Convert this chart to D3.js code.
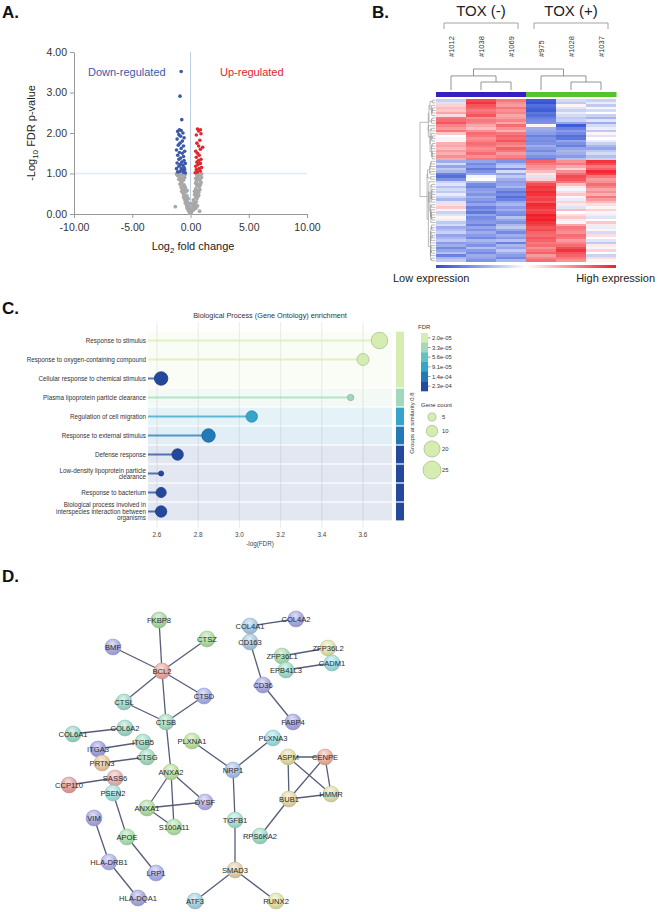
<!DOCTYPE html>
<html>
<head>
<meta charset="utf-8">
<script src="https://cdn.jsdelivr.net/npm/d3@7"></script>
<style>
  body { margin: 0; background: #fff; }
  svg { display: block; font-family: "Liberation Sans", Arial, sans-serif; }
</style>
</head>
<body>
<svg id="fig" width="658" height="912"></svg>
<script>
// ---------------- data ----------------

// A. volcano plot
const volcanoXTicks = [-10, -5, 0, 5, 10];
const volcanoYTicks = [0, 1, 2, 3, 4];
const grayPts = [
  [-0.05,0.02],[0.05,0.03],[-0.12,0.06],[0.15,0.08],[0.02,0.05],[-0.2,0.1],[0.25,0.1],[0.1,0.12],[0.0,0.09],[-0.08,0.14],
  [-0.3,0.15],[0.35,0.16],[-0.15,0.18],[0.45,0.14],[-1.3,0.18],[0.78,0.07],[0.2,0.19],[-0.25,0.2],
  [-0.35,0.22],[0.4,0.24],[-0.45,0.28],[0.5,0.3],[-0.25,0.3],[0.3,0.28],[0.6,0.2],[-0.1,0.25],[0.15,0.26],[-0.35,0.33],
  [-0.5,0.36],[0.55,0.38],[-0.6,0.42],[0.65,0.44],[-0.4,0.4],[0.45,0.42],[-0.55,0.48],[0.7,0.46],[-0.3,0.45],[0.25,0.35],[0.35,0.48],[-0.2,0.38],
  [-0.65,0.52],[0.7,0.54],[-0.75,0.56],[0.6,0.58],[-0.5,0.6],[0.8,0.6],[-0.7,0.62],[0.55,0.5],[-0.4,0.55],[0.45,0.62],[-0.3,0.58],[0.35,0.56],
  [-0.8,0.66],[0.75,0.68],[-0.65,0.7],[0.85,0.72],[-0.9,0.74],[0.65,0.74],[-0.75,0.78],[0.9,0.78],[-0.55,0.72],[0.55,0.7],[-0.45,0.66],[0.45,0.76],
  [-0.85,0.82],[0.8,0.84],[-1.0,0.86],[0.7,0.86],[-0.7,0.88],[0.95,0.9],[-0.9,0.92],[0.6,0.92],[-0.6,0.84],[0.5,0.8],[-0.5,0.9],[0.45,0.88],
  [-1.1,0.95],[0.85,0.96],[-0.8,0.97],[0.75,0.98],[-1.2,0.99],[0.95,0.99],[-0.6,0.96],[0.55,0.97],[-1.0,0.99],[0.65,0.94],[-0.45,0.98]
];
const downPts = [
  [-0.45,1.02],[-0.6,1.03],[-0.9,1.05],[-1.1,1.04],[-0.7,1.08],[-0.5,1.1],[-1.2,1.12],[-0.8,1.12],
  [-0.55,1.15],[-1.0,1.18],[-0.65,1.2],[-0.9,1.22],[-0.45,1.25],[-1.15,1.26],[-0.75,1.28],[-0.55,1.32],
  [-1.0,1.35],[-0.85,1.38],[-0.6,1.42],[-1.1,1.45],[-0.7,1.5],[-0.95,1.52],[-0.5,1.55],[-1.2,1.58],
  [-0.8,1.62],[-0.6,1.68],[-1.05,1.7],[-0.9,1.75],[-0.7,1.8],[-1.15,1.85],[-0.55,1.88],[-0.85,1.92],
  [-1.0,1.96],[-0.65,2.0],[-1.1,2.04],[-0.8,2.06],[-0.95,2.08],[-0.75,2.33],[-0.9,2.91],[-0.8,3.52]
];
const upPts = [
  [0.4,1.02],[0.6,1.04],[0.85,1.06],[0.5,1.1],[0.75,1.12],[0.95,1.15],[0.45,1.18],[0.65,1.22],
  [0.85,1.25],[0.55,1.28],[0.7,1.32],[0.9,1.35],[0.5,1.4],[0.75,1.45],[0.6,1.5],[0.45,1.55],
  [0.85,1.6],[0.7,1.68],[1.05,1.65],[0.55,1.75],[0.8,1.82],[0.5,1.95],[0.9,1.98],[0.7,2.05],[0.85,2.08],[0.6,2.1]
];

// B. heatmap
const groupNames = ["TOX (-)", "TOX (+)"];
const sampleIds = ["#1012", "#1038", "#1069", "#975", "#1028", "#1037"];
const sampleGroup = [0, 0, 0, 1, 1, 1];
const colTree = { h: 1, c: [
  { h: 0.67, c: [{ leaf: 0 }, { h: 0.38, c: [{ leaf: 1 }, { leaf: 2 }] }] },
  { h: 0.67, c: [{ leaf: 3 }, { h: 0.38, c: [{ leaf: 4 }, { leaf: 5 }] }] }
] };
const heatRows = [
  [-0.5,1.6,1.2,-1.8,-0.4,-0.5],[-0.3,1.8,1.0,-1.9,-0.6,-0.2],[0.4,1.5,0.9,-1.6,0.1,-0.6],[0.6,1.4,1.2,-1.7,-0.3,-0.1],
  [0.5,1.2,1.0,-1.8,-0.5,-0.4],[0.8,1.3,1.1,-1.5,-0.2,0.0],[0.3,1.5,0.8,-1.6,-0.4,-0.5],[1.2,1.0,0.9,-1.4,-0.6,-0.8],
  [1.3,1.2,1.1,-1.3,-0.5,-0.3],[1.5,1.1,0.8,-1.2,-1.0,-0.9],[1.1,0.8,1.3,0.1,-1.8,-0.4],[0.9,0.6,1.0,-0.9,-1.4,-0.2],
  [1.2,1.0,0.7,-1.0,-1.1,-0.6],[0.5,1.3,1.2,-1.1,-1.3,0.1],[0.0,1.2,1.4,-1.4,-1.6,-0.3],[-0.1,1.0,1.3,-1.2,-1.5,0.0],
  [0.1,1.1,1.5,-1.3,-1.0,-0.2],[0.7,1.3,1.2,-1.2,-1.2,-0.5],[0.8,1.2,1.0,-0.9,-1.4,-0.8],[0.6,1.0,1.4,-1.1,-1.0,-1.0],
  [0.9,1.1,1.2,-1.3,-0.8,-0.6],[0.7,1.3,0.9,-1.0,-0.9,-0.4],[1.0,1.0,1.1,-1.2,-1.1,-0.7],[0.8,1.2,1.3,-1.4,-0.7,-0.5],
  [-0.9,-1.0,-1.2,1.4,1.0,1.8],[-0.4,-1.3,-0.8,1.2,1.2,1.6],[-1.0,-1.1,-0.6,1.0,0.8,1.2],[-0.6,-1.5,-1.3,0.9,0.4,1.4],
  [-0.8,-1.2,-0.4,0.6,1.0,1.9],[-1.4,-0.9,-1.0,0.2,1.3,1.7],[-1.6,-0.1,-0.6,-0.3,1.6,1.2],[-1.2,0.0,-0.9,0.4,1.5,0.9],
  [-0.5,-0.8,-1.1,1.2,1.2,1.0],[-0.3,-1.3,-1.0,1.6,0.6,1.3],[-0.7,-1.4,-0.8,1.8,0.2,1.1],[-0.4,-1.1,-1.2,1.7,-0.1,0.8],
  [-0.6,-1.0,-1.5,1.9,0.3,1.0],[-0.2,-1.2,-1.3,1.8,0.5,0.7],[-0.5,-0.9,-1.6,1.6,0.1,1.2],[-0.8,-1.1,-1.4,1.7,-0.2,0.9],
  [-0.3,-1.3,-1.0,1.5,0.4,0.6],[0.3,-1.0,-0.8,1.9,0.2,0.3],[0.5,-1.4,-1.1,1.8,-0.3,0.1],[-0.1,-1.2,-0.9,1.6,0.6,0.4],
  [-0.5,-1.5,-1.2,1.7,0.0,-0.1],[-0.3,-1.0,-1.3,2.0,0.3,0.2],[0.1,-1.3,-0.7,1.9,0.5,-0.3],[-0.2,-1.2,-1.0,2.0,0.2,0.0],
  [-0.6,-1.1,-1.2,1.8,-0.1,0.5],[-0.4,-1.4,-0.8,1.7,0.8,0.2],[-0.9,-1.0,-0.6,1.5,1.2,-0.2],[-0.7,-1.2,-1.0,1.6,1.1,0.1],
  [-0.5,-0.9,-1.3,1.4,1.0,-0.4],[-1.0,-1.1,-0.9,1.3,1.3,0.3],[-0.8,-1.3,-1.1,1.5,1.2,0.0],[-0.6,-0.8,-0.7,1.4,0.9,-0.3],
  [-1.1,-1.0,-1.4,1.2,1.1,-0.6],[-0.9,-1.2,-0.8,1.3,1.3,0.2],[-1.3,-0.7,-1.0,1.0,1.6,-0.1],[-1.0,-1.1,-0.6,1.2,1.8,0.4],
  [-0.7,-1.3,-0.9,1.4,1.5,0.0],[-1.4,-0.9,-1.1,0.9,1.4,-0.5],[-0.8,-1.0,-1.3,1.1,1.2,0.3],[-0.6,-1.2,-0.8,1.3,1.0,0.1]
];

// C. GO enrichment
const goTerms = [
  "Response to stimulus",
  "Response to oxygen-containing compound",
  "Cellular response to chemical stimulus",
  "Plasma lipoprotein particle clearance",
  "Regulation of cell migration",
  "Response to external stimulus",
  "Defense response",
  "Low-density lipoprotein particle\nclearance",
  "Response to bacterium",
  "Biological process involved in\ninterspecies interaction between\norganisms"
];
const goNegLogFdr = [3.68, 3.60, 2.62, 3.54, 3.06, 2.85, 2.70, 2.62, 2.62, 2.62];
const goFdr = [2.0e-5, 2.0e-5, 2.3e-4, 3.3e-5, 9.1e-5, 1.4e-4, 2.3e-4, 2.3e-4, 2.3e-4, 2.3e-4];
const goGeneCount = [21, 11, 14, 3, 10, 14, 10, 2, 8, 10];
const goGroup = [0, 0, 0, 1, 2, 3, 4, 5, 6, 7];
const goXTicks = [2.6, 2.8, 3.0, 3.2, 3.4, 3.6];
const fdrTicks = [2.0e-5, 3.3e-5, 5.6e-5, 9.1e-5, 1.4e-4, 2.3e-4];
const fdrTickLabels = ["2.0e-05", "3.3e-05", "5.6e-05", "9.1e-05", "1.4e-04", "2.3e-04"];
const geneCountTicks = [5, 10, 20, 25];

// D. interaction network (layout units)
const netNodes = [
  ["FKBP8",159,620],["CTSZ",207,639],["BMF",113,647],["BCL2",162,671],["CTSL",124,702],["CTSD",204,696],
  ["CTSB",166,722],["COL6A1",73,734],["COL6A2",125,728],["ITGB5",143,742],["ITGA3",98,749],["CTSG",147,757],
  ["PRTN3",102,763],["PLXNA1",192,741],["COL4A1",250,626],["COL4A2",296,619],["CD163",250,642],["CD36",263,685],
  ["FABP4",293,722],["PLXNA3",273,738],["ZFP36L1",282,656],["ZFP36L2",328,648],["EPB41L3",286,670],["CADM1",332,663],
  ["ASPM",288,757],["CENPE",325,757],["BUB1",289,799],["HMMR",331,794],["RPS6KA2",260,836],["ANXA2",171,772],
  ["NRP1",233,770],["SASS6",115,778],["CCP110",69,785],["PSEN2",113,793],["ANXA1",147,808],["DYSF",205,802],
  ["S100A11",174,827],["TGFB1",235,820],["VIM",94,818],["APOE",127,837],["HLA-DRB1",109,862],["LRP1",156,873],
  ["SMAD3",235,870],["HLA-DQA1",138,898],["ATF3",195,901],["RUNX2",276,901]
];
const netEdges = [
  ["FKBP8","BCL2"],["BMF","BCL2"],["CTSZ","BCL2"],["BCL2","CTSL"],["BCL2","CTSD"],["BCL2","CTSB"],
  ["CTSL","CTSB"],["CTSD","CTSB"],["CTSB","ANXA2"],["COL6A1","COL6A2"],["ITGA3","ITGB5"],["PRTN3","CTSG"],
  ["CCP110","SASS6"],["COL4A1","COL4A2"],["CD163","CD36"],["CD36","FABP4"],["ZFP36L1","ZFP36L2"],["EPB41L3","CADM1"],
  ["PLXNA1","NRP1"],["PLXNA3","NRP1"],["NRP1","TGFB1"],["TGFB1","SMAD3"],["SMAD3","ATF3"],["SMAD3","RUNX2"],
  ["ASPM","CENPE"],["ASPM","BUB1"],["ASPM","HMMR"],["CENPE","BUB1"],["CENPE","HMMR"],["BUB1","HMMR"],["BUB1","RPS6KA2"],
  ["ANXA2","ANXA1"],["ANXA2","S100A11"],["ANXA2","DYSF"],["ANXA1","DYSF"],["ANXA1","S100A11"],
  ["PSEN2","APOE"],["APOE","LRP1"],["VIM","HLA-DRB1"],["HLA-DRB1","HLA-DQA1"]
];
const nodeColors = {
  FKBP8:"#a9d9a1", CTSZ:"#acdca0", BMF:"#a9abe2", BCL2:"#e9a9a1", CTSL:"#a1d9c9", CTSD:"#a9b1e9",
  CTSB:"#a9ddc1", COL6A1:"#99d9c9", COL6A2:"#9fd9cb", ITGB5:"#a1dcc9", ITGA3:"#a1a1e1", CTSG:"#a5dcbd",
  PRTN3:"#e9c9a1", PLXNA1:"#b9e1a1", COL4A1:"#a9c9e1", COL4A2:"#a9a9e1", CD163:"#a9c9e1", CD36:"#a9a9e3",
  FABP4:"#a9a9e1", PLXNA3:"#a1dde1", ZFP36L1:"#a9ddb1", ZFP36L2:"#e1e1b1", EPB41L3:"#a1ddc9", CADM1:"#a1dde1",
  ASPM:"#e1dda1", CENPE:"#e9b1a1", BUB1:"#e1d9a9", HMMR:"#e1dda9", RPS6KA2:"#a1ddc9", ANXA2:"#b9e1a1",
  NRP1:"#a9c1e9", SASS6:"#e9b1b1", CCP110:"#e1a1a1", PSEN2:"#a1e1dd", ANXA1:"#b1dda1", DYSF:"#b1b1e9",
  S100A11:"#b1e1a9", TGFB1:"#a9e1d1", VIM:"#a9a9e1", APOE:"#a9e1b1", "HLA-DRB1":"#b1b1e9", LRP1:"#a9b1e9",
  SMAD3:"#e1d1a9", "HLA-DQA1":"#a9a9e1", ATF3:"#a9d1e1", RUNX2:"#e1e1a9"
};

// ---------------- drawing ----------------
const svg = d3.select("#fig");

function panelLabel(txt, x, y) {
  svg.append("text").attr("x", x).attr("y", y)
    .attr("font-size", 17).attr("font-weight", 700).attr("fill", "#111").text(txt);
}

// ============ A. volcano ============
panelLabel("A.", 2, 18);
{
  const x = d3.scaleLinear([-10, 10], [74, 307]);
  const y = d3.scaleLinear([0, 4], [214, 52]);
  const g = svg.append("g");

  g.append("line").attr("x1", x(-10)).attr("x2", x(10)).attr("y1", y(1)).attr("y2", y(1))
    .attr("stroke", "#e2e9f2").attr("stroke-width", 1.3);
  g.append("line").attr("x1", x(0)).attr("x2", x(0)).attr("y1", y(4)).attr("y2", y(0))
    .attr("stroke", "#b3cbe6").attr("stroke-width", 0.9);

  const yAx = g.append("g").attr("transform", `translate(${x(-10)},0)`)
    .call(d3.axisLeft(y).tickValues(volcanoYTicks).tickFormat(d => d.toFixed(2)).tickSize(4).tickSizeOuter(0));
  const xAx = g.append("g").attr("transform", `translate(0,${y(0)})`)
    .call(d3.axisBottom(x).tickValues(volcanoXTicks).tickFormat(d => d.toFixed(2)).tickSize(4).tickSizeOuter(0));
  [yAx, xAx].forEach(a => {
    a.select(".domain").attr("stroke", "#999");
    a.selectAll(".tick line").attr("stroke", "#999");
    a.selectAll("text").attr("fill", "#333").attr("font-size", 10.5)
      .attr("font-family", "Liberation Sans, Arial, sans-serif");
  });
  xAx.selectAll("text").attr("dy", "0.95em");

  g.selectAll(".gp").data(grayPts).enter().append("circle")
    .attr("cx", d => x(d[0])).attr("cy", d => y(d[1])).attr("r", 1.9).attr("fill", "#a8a8a8");
  g.selectAll(".dp").data(downPts).enter().append("circle")
    .attr("cx", d => x(d[0])).attr("cy", d => y(d[1])).attr("r", 1.8).attr("fill", "#3a5aab");
  g.selectAll(".up").data(upPts).enter().append("circle")
    .attr("cx", d => x(d[0])).attr("cy", d => y(d[1])).attr("r", 1.8).attr("fill", "#e3262d");

  g.append("text").attr("x", 88).attr("y", 76).attr("font-size", 11).attr("fill", "#3a5aab").text("Down-regulated");
  g.append("text").attr("x", 220).attr("y", 76).attr("font-size", 11).attr("fill", "#e3262d").text("Up-regulated");

  const xt = g.append("text").attr("x", 193).attr("y", 250).attr("text-anchor", "middle")
    .attr("font-size", 11).attr("fill", "#222");
  xt.append("tspan").text("Log");
  xt.append("tspan").attr("font-size", 8).attr("dy", 3).text("2");
  xt.append("tspan").attr("dy", -3).text(" fold change");

  const yt = g.append("text").attr("transform", "translate(35,133) rotate(-90)").attr("text-anchor", "middle")
    .attr("font-size", 11).attr("fill", "#222");
  yt.append("tspan").text("-Log");
  yt.append("tspan").attr("font-size", 8).attr("dy", 3).text("10");
  yt.append("tspan").attr("dy", -3).text(" FDR p-value");
}

// ============ B. heatmap ============
panelLabel("B.", 372, 18);
{
  const cx = d3.scaleBand(d3.range(sampleIds.length), [436, 616]);
  const ry = d3.scaleBand(d3.range(heatRows.length), [99, 262]);
  const heatColor = d3.scaleLinear([-2, 0, 2], ["#2a4bd3", "#ffffff", "#f01e27"]);
  const colCenter = i => cx(i) + cx.bandwidth() / 2;
  const g = svg.append("g");

  // group headers + brackets
  groupNames.forEach((name, gi) => {
    const idx = d3.range(sampleIds.length).filter(i => sampleGroup[i] === gi);
    const x0 = colCenter(idx[0]) - 7, x1 = colCenter(idx[idx.length - 1]) + 7;
    g.append("text").attr("x", (x0 + x1) / 2).attr("y", 16).attr("text-anchor", "middle")
      .attr("font-size", 15).attr("fill", "#222").text(name);
    g.append("path").attr("d", `M${x0},29V23H${x1}V29`).attr("fill", "none")
      .attr("stroke", "#999").attr("stroke-width", 0.9);
  });
  // sample ids
  g.selectAll(".sid").data(sampleIds).enter().append("text")
    .attr("transform", (d, i) => `translate(${colCenter(i) + 3},57) rotate(-90)`)
    .attr("font-size", 7.5).attr("fill", "#333").text(d => d);

  // column dendrogram
  const hy = d3.scaleLinear([0, 1], [90, 69]);
  const ct = d3.hierarchy(colTree, d => d.c);
  ct.eachAfter(n => {
    n.px = n.children ? d3.mean(n.children, c => c.px) : colCenter(n.data.leaf);
    n.hh = n.children ? n.data.h : 0;
  });
  ct.each(n => {
    if (!n.children) return;
    const [a, b] = n.children;
    g.append("path").attr("fill", "none").attr("stroke", "#888").attr("stroke-width", 0.9)
      .attr("d", `M${a.px},${hy(a.hh)}V${hy(n.hh)}H${b.px}V${hy(b.hh)}`);
  });

  // group colour bar
  g.selectAll(".gbar").data(sampleIds).enter().append("rect")
    .attr("x", (d, i) => cx(i)).attr("width", cx.bandwidth() + 0.5)
    .attr("y", 92).attr("height", 5)
    .attr("fill", (d, i) => sampleGroup[i] === 0 ? "#3a1fc0" : "#56c22c");

  // cells
  heatRows.forEach((row, r) => {
    g.selectAll(null).data(row).enter().append("rect")
      .attr("x", (d, i) => cx(i)).attr("y", ry(r))
      .attr("width", cx.bandwidth() + 0.3).attr("height", ry.bandwidth() + 0.3)
      .attr("fill", d => heatColor(d)).attr("shape-rendering", "crispEdges");
  });

  // row dendrogram: average linkage restricted to neighbouring clusters
  const dist = (a, b) => Math.sqrt(d3.sum(a, (v, i) => (v - b[i]) ** 2));
  let clusters = heatRows.map((r, i) => ({ members: [i], h: 0, leaf: i }));
  while (clusters.length > 1) {
    let best = 0, bd = Infinity;
    for (let i = 0; i < clusters.length - 1; i++) {
      const A = clusters[i].members, B = clusters[i + 1].members;
      let s = 0;
      A.forEach(a => B.forEach(b => { s += dist(heatRows[a], heatRows[b]); }));
      const d = s / (A.length * B.length);
      if (d < bd) { bd = d; best = i; }
    }
    const a = clusters[best], b = clusters[best + 1];
    clusters.splice(best, 2, { members: a.members.concat(b.members), h: Math.max(bd, a.h, b.h), children: [a, b] });
  }
  const rt = d3.hierarchy(clusters[0], d => d.children);
  const hx = d3.scalePow().exponent(0.7).domain([0, rt.data.h]).range([435.5, 420]);
  rt.eachAfter(n => {
    n.py = n.children ? d3.mean(n.children, c => c.py) : ry(n.data.leaf) + ry.bandwidth() / 2;
  });
  let dpath = "";
  rt.each(n => {
    if (!n.children) return;
    const [a, b] = n.children;
    dpath += `M${hx(a.data.h)},${a.py}H${hx(n.data.h)}V${b.py}H${hx(b.data.h)}`;
  });
  g.append("path").attr("d", dpath).attr("fill", "none").attr("stroke", "#8a8a8a").attr("stroke-width", 0.6);

  // expression gradient
  const grad = svg.append("defs").append("linearGradient").attr("id", "exprGrad");
  [["0%", heatColor(-2)], ["50%", "#ffffff"], ["100%", heatColor(2)]].forEach(s =>
    grad.append("stop").attr("offset", s[0]).attr("stop-color", s[1]));
  g.append("rect").attr("x", 436).attr("y", 265).attr("width", 180).attr("height", 3).attr("fill", "url(#exprGrad)");
  g.append("text").attr("x", 393).attr("y", 282).attr("font-size", 11).attr("fill", "#222").text("Low expression");
  g.append("text").attr("x", 655).attr("y", 282).attr("text-anchor", "end").attr("font-size", 11).attr("fill", "#222").text("High expression");
}

// ============ C. GO enrichment ============
panelLabel("C.", 2, 314);
{
  const fdrColors = ["#d5edb1", "#a2d9ba", "#64c1c0", "#36a5cb", "#2279b6", "#24489c"];
  const fdrColor = d3.scaleThreshold([2.6e-5, 4.4e-5, 7.2e-5, 1.15e-4, 1.85e-4], fdrColors);
  const x = d3.scaleLinear([2.6, 3.6], [157, 363]);
  const y = d3.scaleBand(d3.range(goTerms.length), [331, 521]);
  const r = d3.scaleSqrt([0, 25], [0, 9]);
  const bandX0 = 148, bandX1 = 392;
  const g = svg.append("g");

  g.append("text").attr("x", 270).attr("y", 318).attr("text-anchor", "middle")
    .attr("font-size", 7.3).attr("fill", "#333").text("Biological Process (Gene Ontology) enrichment");

  // grid
  g.selectAll(".vg").data(goXTicks).enter().append("line")
    .attr("x1", d => x(d)).attr("x2", d => x(d)).attr("y1", 322).attr("y2", 528)
    .attr("stroke", "#e6e6e6").attr("stroke-width", 0.8);

  // similarity groups
  const groups = d3.groups(d3.range(goTerms.length), i => goGroup[i]).map(([gid, rows]) => ({
    gid, first: d3.min(rows), last: d3.max(rows), fdr: d3.min(rows, i => goFdr[i])
  }));
  g.selectAll(".band").data(groups).enter().append("rect")
    .attr("x", bandX0).attr("width", bandX1 - bandX0)
    .attr("y", d => y(d.first) + 0.6).attr("height", d => y(d.last) + y.step() - y(d.first) - 1.2)
    .attr("fill", d => fdrColor(d.fdr)).attr("fill-opacity", 0.13);
  g.selectAll(".gbar").data(groups).enter().append("rect")
    .attr("x", 396).attr("width", 8)
    .attr("y", d => y(d.first) + 0.6).attr("height", d => y(d.last) + y.step() - y(d.first) - 1.2)
    .attr("fill", d => fdrColor(d.fdr));
  g.append("text").attr("transform", "translate(414,423) rotate(-90)").attr("text-anchor", "middle")
    .attr("font-size", 6).attr("fill", "#333").text("Groups at similarity 0.8");

  // lollipops
  const cy = i => y(i) + y.step() / 2;
  g.selectAll(".stem").data(goTerms).enter().append("line")
    .attr("x1", bandX0).attr("x2", (d, i) => x(goNegLogFdr[i]))
    .attr("y1", (d, i) => cy(i)).attr("y2", (d, i) => cy(i))
    .attr("stroke", (d, i) => fdrColor(goFdr[i])).attr("stroke-opacity", 0.75).attr("stroke-width", 2);
  g.selectAll(".dot").data(goTerms).enter().append("circle")
    .attr("cx", (d, i) => x(goNegLogFdr[i])).attr("cy", (d, i) => cy(i))
    .attr("r", (d, i) => r(goGeneCount[i]))
    .attr("fill", (d, i) => fdrColor(goFdr[i]))
    .attr("stroke", (d, i) => d3.color(fdrColor(goFdr[i])).darker(0.6)).attr("stroke-width", 0.8);

  // row labels
  goTerms.forEach((t, i) => {
    const lines = t.split("\n");
    const tx = g.append("text").attr("x", 146).attr("text-anchor", "end")
      .attr("font-size", 6.3).attr("fill", "#333");
    lines.forEach((ln, k) => tx.append("tspan").attr("x", 146)
      .attr("y", cy(i) + 2.2 + (k - (lines.length - 1) / 2) * 6.3).text(ln));
  });

  // x axis labels
  g.selectAll(".xt").data(goXTicks).enter().append("text")
    .attr("x", d => x(d)).attr("y", 537).attr("text-anchor", "middle")
    .attr("font-size", 6.3).attr("fill", "#444").text(d => d.toFixed(1));
  g.append("text").attr("x", 260).attr("y", 546).attr("text-anchor", "middle")
    .attr("font-size", 6.3).attr("fill", "#444").text("-log(FDR)");

  // FDR legend
  g.append("text").attr("x", 418).attr("y", 329).attr("font-size", 6).attr("fill", "#333").text("FDR");
  const ly = d3.scaleBand(d3.range(fdrTicks.length), [333, 391]);
  g.selectAll(".lsw").data(fdrTicks).enter().append("rect")
    .attr("x", 421).attr("width", 7).attr("y", (d, i) => ly(i)).attr("height", ly.bandwidth() + 0.3)
    .attr("fill", d => fdrColor(d));
  g.selectAll(".ltk").data(fdrTicks).enter().append("line")
    .attr("x1", 428).attr("x2", 430.5)
    .attr("y1", (d, i) => ly(i) + ly.bandwidth() / 2).attr("y2", (d, i) => ly(i) + ly.bandwidth() / 2)
    .attr("stroke", "#555").attr("stroke-width", 0.6);
  g.selectAll(".llb").data(fdrTickLabels).enter().append("text")
    .attr("x", 432).attr("y", (d, i) => ly(i) + ly.bandwidth() / 2 + 2)
    .attr("font-size", 5.8).attr("fill", "#333").text(d => d);

  // gene count legend
  const gcY = [417, 431, 449, 470];
  g.append("text").attr("x", 421).attr("y", 407).attr("font-size", 6).attr("fill", "#333").text("Gene count");
  g.selectAll(".gcc").data(geneCountTicks).enter().append("circle")
    .attr("cx", 432).attr("cy", (d, i) => gcY[i]).attr("r", d => r(d))
    .attr("fill", fdrColors[0]).attr("stroke", d3.color(fdrColors[0]).darker(0.6)).attr("stroke-width", 0.8);
  g.selectAll(".gcl").data(geneCountTicks).enter().append("text")
    .attr("x", 442).attr("y", (d, i) => gcY[i] + 2).attr("font-size", 5.8).attr("fill", "#333").text(d => d);
}

// ============ D. network ============
panelLabel("D.", 2, 582);
{
  const nx = d3.scaleLinear([0, 658], [0, 658]);
  const ny = d3.scaleLinear([0, 912], [0, 912]);
  const pos = new Map(netNodes.map(d => [d[0], d]));
  const g = svg.append("g");
  const defs = svg.append("defs");

  Object.entries(nodeColors).forEach(([name, c], i) => {
    const rg = defs.append("radialGradient").attr("id", "ng" + i)
      .attr("cx", "45%").attr("cy", "30%").attr("r", "70%");
    rg.append("stop").attr("offset", "0%").attr("stop-color", d3.interpolateRgb(c, "#ffffff")(0.65));
    rg.append("stop").attr("offset", "60%").attr("stop-color", c);
    rg.append("stop").attr("offset", "100%").attr("stop-color", d3.color(c).darker(0.35));
  });
  const gradId = new Map(Object.keys(nodeColors).map((k, i) => [k, "url(#ng" + i + ")"]));

  g.selectAll(".edge").data(netEdges).enter().append("line")
    .attr("x1", d => nx(pos.get(d[0])[1])).attr("y1", d => ny(pos.get(d[0])[2]))
    .attr("x2", d => nx(pos.get(d[1])[1])).attr("y2", d => ny(pos.get(d[1])[2]))
    .attr("stroke", "#575d78").attr("stroke-width", 1.3);

  g.selectAll(".node").data(netNodes).enter().append("circle")
    .attr("cx", d => nx(d[1])).attr("cy", d => ny(d[2])).attr("r", 8)
    .attr("fill", d => gradId.get(d[0]))
    .attr("stroke", d => d3.color(nodeColors[d[0]]).darker(0.5)).attr("stroke-width", 0.5);

  g.selectAll(".nlab").data(netNodes).enter().append("text")
    .attr("x", d => nx(d[1])).attr("y", d => ny(d[2]) + 2.6)
    .attr("text-anchor", "middle").attr("font-size", 7.6).attr("fill", "#2a2a2a")
    .text(d => d[0]);
}
</script>
</body>
</html>
